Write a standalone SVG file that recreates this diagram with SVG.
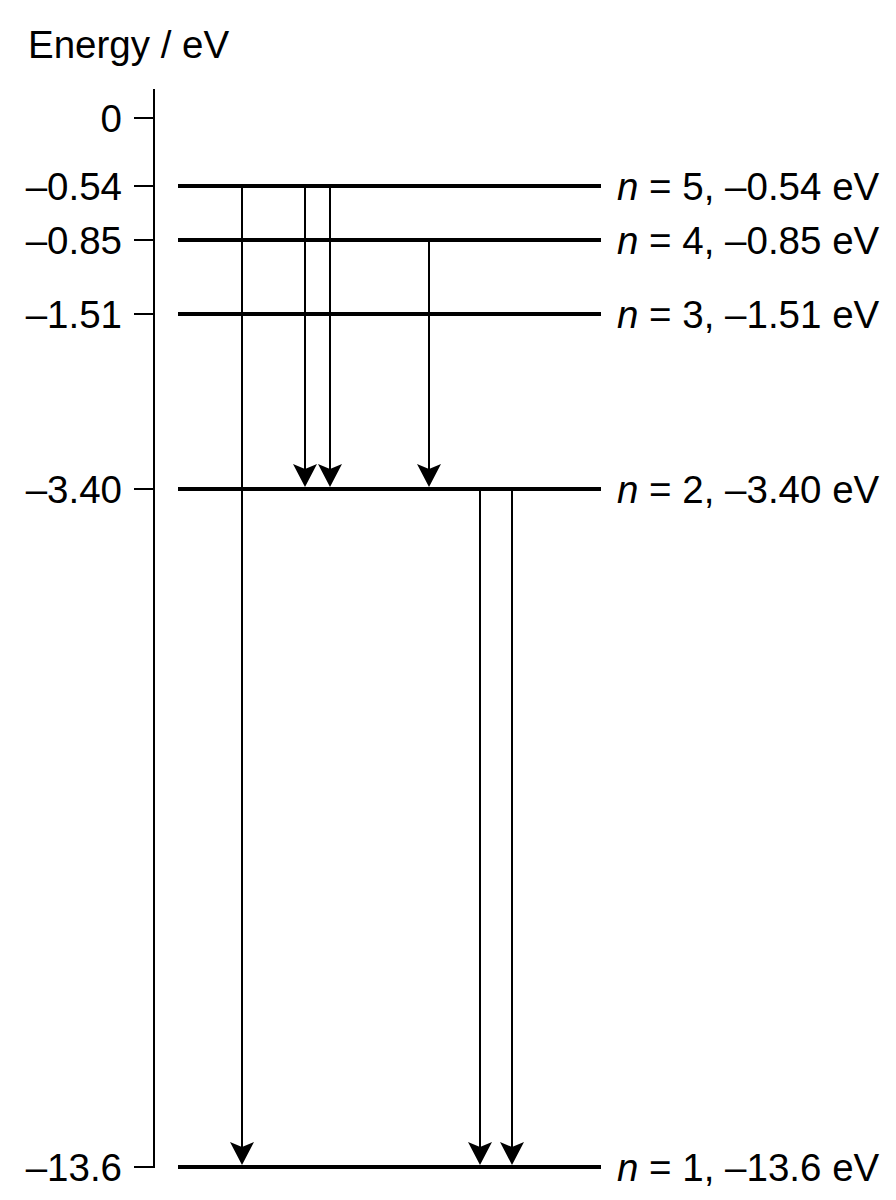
<svg xmlns="http://www.w3.org/2000/svg" width="896" height="1200" viewBox="0 0 896 1200">
<style>
text{font-family:"Liberation Sans",Arial,sans-serif;font-size:38.5px;fill:#000}
.ax{stroke:#000;stroke-width:2;fill:none}
.lvl{stroke:#000;stroke-width:4;fill:none}
.arr{stroke:#000;stroke-width:2;fill:none}
.ah{fill:#000;stroke:none}
</style>
<defs>
<path id="head" d="M0,0 L-12,-23 L0,-18 L12,-23 Z"/>
</defs>
<rect width="896" height="1200" fill="#fff"/>
<g id="axis">
<text x="28" y="58">Energy / eV</text>
<path class="ax" d="M154,89 V1167 H134"/>
<path class="ax" d="M134,118 H154 M134,186 H154 M134,240 H154 M134,314 H154 M134,489 H154"/>
<g text-anchor="end">
<text x="122" y="132">0</text>
<text x="122" y="200">–0.54</text>
<text x="122" y="254">–0.85</text>
<text x="122" y="328">–1.51</text>
<text x="122" y="503">–3.40</text>
<text x="122" y="1181">–13.6</text>
</g>
</g>
<g id="level5"><line class="lvl" x1="178" y1="186" x2="601" y2="186"/><text x="617" y="200"><tspan font-style="italic">n</tspan> = 5, –0.54 eV</text></g>
<g id="level4"><line class="lvl" x1="178" y1="240" x2="601" y2="240"/><text x="617" y="254"><tspan font-style="italic">n</tspan> = 4, –0.85 eV</text></g>
<g id="level3"><line class="lvl" x1="178" y1="314" x2="601" y2="314"/><text x="617" y="328"><tspan font-style="italic">n</tspan> = 3, –1.51 eV</text></g>
<g id="level2"><line class="lvl" x1="178" y1="489" x2="601" y2="489"/><text x="617" y="503"><tspan font-style="italic">n</tspan> = 2, –3.40 eV</text></g>
<g id="level1"><line class="lvl" x1="178" y1="1167" x2="601" y2="1167"/><text x="617" y="1181"><tspan font-style="italic">n</tspan> = 1, –13.6 eV</text></g>
<g id="connectors">
<line class="arr" x1="242" y1="186" x2="242" y2="1150"/><use href="#head" class="ah" x="242" y="1165"/>
<line class="arr" x1="305" y1="186" x2="305" y2="472"/><use href="#head" class="ah" x="305" y="487"/>
<line class="arr" x1="330" y1="186" x2="330" y2="472"/><use href="#head" class="ah" x="330" y="487"/>
<line class="arr" x1="429" y1="240" x2="429" y2="472"/><use href="#head" class="ah" x="429" y="487"/>
<line class="arr" x1="480" y1="489" x2="480" y2="1150"/><use href="#head" class="ah" x="480" y="1165"/>
<line class="arr" x1="512" y1="489" x2="512" y2="1150"/><use href="#head" class="ah" x="512" y="1165"/>
</g>
</svg>
